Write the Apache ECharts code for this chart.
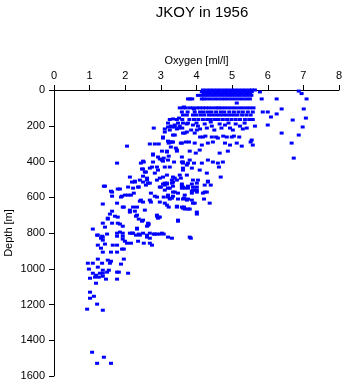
<!DOCTYPE html>
<html>
<head>
<meta charset="utf-8">
<script src="https://cdn.jsdelivr.net/npm/echarts@6/dist/echarts.min.js"></script>
<style>
  html, body { margin: 0; padding: 0; background: #fff; }
  #chart { width: 345px; height: 384px; }
</style>
</head>
<body>
<div id="chart"></div>
<script>
// Dissolved oxygen profile samples, JKOY 1956: [oxygen ml/l, depth m]
const titleText = 'JKOY in 1956';
const oxygenName = 'Oxygen [ml/l]';
const depthName = 'Depth [m]';
const oxygenRange = [0, 8, 1];      // min, max, step
const depthRange = [0, 1600, 200];  // min, max, step

// 0-75 m
const surfaceLayer = [
  [4.18,0],[4.28,0],[4.38,0],[4.48,0],[4.58,0],[4.68,0],[4.78,0],[4.88,0],[4.98,0],[5.08,0],[5.18,0],[5.28,0],[5.38,0],[5.48,0],[5.56,0],[5.64,0],
  [4.15,10],[4.25,10],[4.35,10],[4.45,10],[4.55,10],[4.65,10],[4.75,10],[4.85,10],[4.95,10],[5.05,10],[5.15,10],[5.25,10],[5.35,10],[5.45,10],[5.55,10],[5.78,11],[6.87,6],
  [4.20,20],[4.30,20],[4.40,20],[4.50,20],[4.60,20],[4.70,20],[4.80,20],[4.90,20],[5.00,20],[5.10,20],[5.20,20],[5.30,20],[5.40,20],[5.50,20],[6.95,20],
  [4.04,30],[4.14,30],[4.24,30],[4.34,30],[4.44,30],[4.54,30],[4.64,30],[4.74,30],[4.84,30],[4.94,30],[5.04,30],[5.14,30],[5.24,30],[5.34,30],[5.44,30],[5.54,30],
  [3.76,50],[3.82,50],[3.88,50],[4.15,50],[4.21,50],[4.30,50],[4.40,50],[4.50,50],[4.60,50],[4.70,50],[4.80,50],[4.90,50],[5.00,50],[5.10,50],[5.20,50],[5.30,50],[5.40,50],[5.50,50],
  [5.83,50],[6.25,50],[7.09,50],[5.13,73]
];

// 75-320 m
const upperLayer = [
  [3.53,100],[3.62,100],[3.70,100],[3.81,100],[3.90,100],[4.01,100],[4.09,100],[4.18,100],[4.26,100],[4.35,100],[4.45,100],[4.55,100],[4.62,100],[4.70,100],[4.80,100],[4.90,100],[5.00,100],[5.10,100],[5.20,100],[5.30,100],[5.40,100],[5.50,100],[5.60,100],
  [3.65,95],[3.93,106],[6.39,106],[7.01,106],
  [3.59,123],[3.75,123],[3.95,123],[4.10,123],[4.20,123],[4.32,123],[4.42,123],[4.55,123],[4.68,123],[4.78,123],[4.92,123],[5.05,123],[5.18,123],[5.30,123],[5.44,123],[5.58,123],[5.86,123],[6.00,123],
  [3.62,140],[3.73,140],[3.90,140],[4.00,140],[4.12,140],[4.22,140],[4.35,140],[4.45,140],[4.55,140],[4.65,140],[4.75,140],[4.85,140],[4.95,140],[5.05,140],[5.15,140],[5.28,140],[5.40,140],[5.52,140],
  [6.25,134],[6.09,151],[7.07,157],[6.70,168],
  [3.25,165],[3.45,165],[3.60,165],[3.80,165],[3.93,165],[4.05,165],[4.18,165],[4.30,165],[4.40,165],[4.52,165],[4.62,165],[4.74,165],[4.86,165],[4.98,165],[5.10,165],[5.22,165],[5.36,165],[5.48,165],[5.58,165],
  [3.34,162],[3.51,157],[3.62,185],[3.76,185],[3.20,185],[3.48,185],[4.00,185],[4.40,179],[4.90,185],[5.35,185],
  [2.80,213],[3.11,218],[3.28,202],[3.39,196],[3.53,202],[3.73,190],[3.90,196],[4.04,202],[4.23,190],[4.29,213],[4.43,202],[4.65,190],[4.80,196],[4.94,213],[5.02,224],[5.22,202],[5.41,213],[5.64,202],
  [3.25,224],[3.45,218],[3.60,213],[3.85,224],[4.10,218],[4.50,224],[4.70,213],[5.10,190],[5.30,218],
  [3.39,207],[3.20,207],[3.31,207],[3.51,213],[6.00,196],[6.98,207],
  [3.11,235],[3.34,252],[3.62,241],[3.95,241],[3.39,252],[3.67,241],[4.01,224],[3.73,235],[6.39,241],[6.87,252],
  [4.18,263],[4.43,263],[4.60,269],[4.99,263],[4.10,263],[4.25,258],[4.55,263],[4.75,258],[4.85,263],[5.05,258],[5.20,263],
  [3.06,263],[3.06,269],[3.20,286],[3.22,297],[3.31,291],[3.25,291],[3.59,297],[3.79,291],[3.95,297],[4.15,308],[4.32,297],[4.46,291],[4.80,297],[4.94,308],[5.13,297],[5.27,314],[5.52,291],
  [3.34,291],[3.56,297],[3.70,291],[5.55,280],[6.67,297],[5.58,308],
  [2.69,302],[2.83,302],[2.94,302],[2.05,314],[3.28,319]
];

// 320-720 m
const middleLayer = [
  [3.42,325],[3.45,342],[3.17,342],[3.03,342],[3.45,336],[3.17,347],[3.81,342],[4.09,336],[3.98,353],[4.65,353],[4.88,342],
  [2.78,358],[2.78,364],[3.22,370],[3.59,375],[2.92,375],[3.08,381],[6.73,381],
  [3.20,392],[3.37,403],[3.62,403],[3.81,392],[3.93,409],[1.77,409],[2.44,409],[2.52,403],[2.78,403],[2.50,398],[2.97,386],[3.06,398],[3.62,409],[3.76,409],
  [3.03,392],[3.59,403],[3.73,420],[4.15,409],[4.32,392],[4.46,403],[4.60,409],[4.74,403],
  [2.89,431],[2.50,442],[2.69,437],[2.75,431],[3.11,431],[2.47,442],[2.92,448],[3.62,437],[3.25,431],[3.62,448],[3.87,437],[4.09,448],[4.29,465],[4.63,431],[4.68,487],
  [2.58,459],[2.55,459],[2.83,465],[3.17,476],[3.34,487],[3.53,476],[3.73,476],[2.13,487],[2.50,482],[2.61,493],[2.97,493],[3.39,493],[3.56,493],[3.06,487],
  [3.90,504],[2.27,510],[2.41,504],[2.61,504],[2.89,504],[3.31,504],[3.45,504],[4.04,504],[4.32,510],[2.50,515],[2.19,515],[2.27,515],[3.34,515],[4.32,515],
  [3.06,526],[3.17,526],[3.59,526],[3.87,526],[2.64,521],[3.11,521],[3.31,521],[2.69,521],[3.17,521],[4.01,521],
  [2.58,532],[3.11,532],[4.23,532],[4.40,532],[1.40,538],[1.43,538],[3.34,538],[3.76,538],[3.59,538],
  [2.08,543],[2.38,543],[2.36,543],[3.00,543],[2.97,543],[3.62,543],[3.90,543],[4.01,543],
  [3.76,549],[2.22,549],[3.25,549],[3.59,549],[3.20,549],[3.67,549],[1.85,554],[1.79,554],
  [3.90,560],[3.11,560],[4.01,560],[3.95,560],[1.60,566],[3.87,566],[1.63,571],[3.34,571],[4.23,571],[3.39,571],[4.01,571],[4.29,571],
  [2.24,577],[2.72,577],[3.48,577],[3.87,577],[4.18,577],
  [1.63,594],[1.91,594],[1.99,588],[2.16,588],[2.08,588],[2.83,594],[3.34,594],[3.67,588],[3.20,588],
  [1.88,599],[2.89,599],[3.20,599],[3.08,599],[3.65,605],[3.31,605],[3.48,610],[4.21,610],[3.25,610],[3.62,610],[3.76,610],
  [2.41,622],[2.69,616],[3.87,616],[3.73,616],[2.44,616],[2.50,627],[2.72,627],[2.97,627],
  [1.37,638],[1.77,633],[3.95,633],[4.37,633],[3.11,633],[3.90,633],[3.17,644],[3.45,650],
  [1.93,655],[2.22,655],[1.96,655],[2.33,655],[3.65,655],[3.22,655],[3.45,655],[3.59,655],[3.62,661],[3.81,666],[3.67,666],[3.76,666],
  [2.55,672],[2.13,672],[1.63,678],[2.27,678],[2.13,683],[4.01,683],[4.01,694],[1.57,694],
  [2.30,706],[1.71,706],[2.89,700],[2.33,700],[2.89,706],[2.94,711],[1.79,711],[2.97,711],[1.51,717],[2.92,717]
];

// below 720 m
const deepLayer = [
  [2.38,722],[1.51,722],[3.48,728],[2.50,728],[3.48,734],[2.47,734],
  [1.37,745],[1.63,745],[1.79,745],[2.64,745],[1.85,750],[2.66,750],[2.64,756],[1.93,762],[2.61,762],[1.43,767],[2.33,773],[1.09,778],[2.33,778],
  [1.85,795],[1.77,801],[1.93,801],[2.19,801],[2.13,801],[2.22,801],[2.50,801],[2.69,801],[3.03,801],
  [1.49,806],[2.83,806],[2.38,806],[2.80,806],[2.89,806],[2.97,806],[3.08,806],
  [1.23,812],[1.21,812],[2.30,812],[2.41,812],[2.61,812],[1.35,818],[1.77,818],[1.93,818],
  [1.37,823],[2.61,823],[3.20,823],[3.81,823],[2.69,829],[3.31,829],[3.84,829],[1.32,829],[1.93,834],
  [1.37,840],[1.99,846],[2.36,846],[2.05,857],[2.16,857],[2.52,857],[2.69,857],[1.43,862],[2.75,868],[1.23,868],[1.65,868],[1.77,868],
  [1.32,885],[1.91,890],[1.96,890],[1.37,907],[1.60,907],[1.77,907],
  [1.23,946],[1.96,946],[1.51,952],[1.60,958],[0.95,969],[1.09,969],[1.35,969],[1.57,969],[1.88,974],
  [1.23,991],[0.98,1002],[1.37,1008],[1.54,1008],[1.49,1019],[1.77,1019],[1.82,1019],[1.09,1025],[1.29,1025],[1.37,1025],[2.08,1025],
  [1.18,1036],[1.37,1042],[1.15,1047],[1.26,1047],[1.01,1053],[1.46,1058],[1.77,1058],[1.18,1081],
  [1.01,1131],[1.12,1154],[1.01,1165],[1.21,1198],[0.93,1226],[1.37,1232],
  [1.07,1467],[1.40,1495],[1.21,1529],[1.60,1529]
];

const samples = [].concat(surfaceLayer, upperLayer, middleLayer, deepLayer);

const FONT = 'Liberation Sans, Arial, Helvetica, sans-serif';
const plainNumber = v => String(v);
const chart = echarts.init(document.getElementById('chart'), null, { renderer: 'canvas' });

chart.setOption({
  animation: false,
  backgroundColor: '#ffffff',
  title: {
    text: titleText,
    left: 197,
    textAlign: 'center',
    top: 0,
    textStyle: { fontFamily: FONT, fontSize: 15, fontWeight: 'normal', color: '#000' }
  },
  grid: { left: 54, top: 90, right: 6, bottom: 8, containLabel: false, outerBoundsMode: 'none' },
  xAxis: {
    type: 'value',
    position: 'top',
    min: oxygenRange[0], max: oxygenRange[1], interval: oxygenRange[2],
    name: oxygenName,
    nameLocation: 'middle',
    nameGap: 24,
    nameMoveOverlap: false,
    nameTextStyle: { fontFamily: FONT, fontSize: 11, color: '#000' },
    axisLine: { show: true, onZero: false, lineStyle: { color: '#000', width: 1 } },
    axisTick: { show: true, length: 5, lineStyle: { color: '#000' } },
    axisLabel: { fontFamily: FONT, fontSize: 11, color: '#000', margin: 9, showMinLabel: true, showMaxLabel: true, formatter: plainNumber },
    splitLine: { show: false }
  },
  yAxis: {
    type: 'value',
    inverse: true,
    min: depthRange[0], max: depthRange[1], interval: depthRange[2],
    name: depthName,
    nameLocation: 'middle',
    nameGap: 40,
    nameRotate: 90,
    nameMoveOverlap: false,
    nameTextStyle: { fontFamily: FONT, fontSize: 11, color: '#000' },
    axisLine: { show: true, onZero: false, lineStyle: { color: '#000', width: 1 } },
    axisTick: { show: true, length: 5, lineStyle: { color: '#000' } },
    axisLabel: { fontFamily: FONT, fontSize: 11, color: '#000', margin: 9, showMinLabel: true, showMaxLabel: true, formatter: plainNumber },
    splitLine: { show: false }
  },
  series: [{
    type: 'scatter',
    data: samples,
    symbol: 'rect',
    symbolSize: [4, 3],
    itemStyle: { color: '#0000ff', opacity: 1 },
    emphasis: { disabled: true }
  }]
});
</script>
</body>
</html>
